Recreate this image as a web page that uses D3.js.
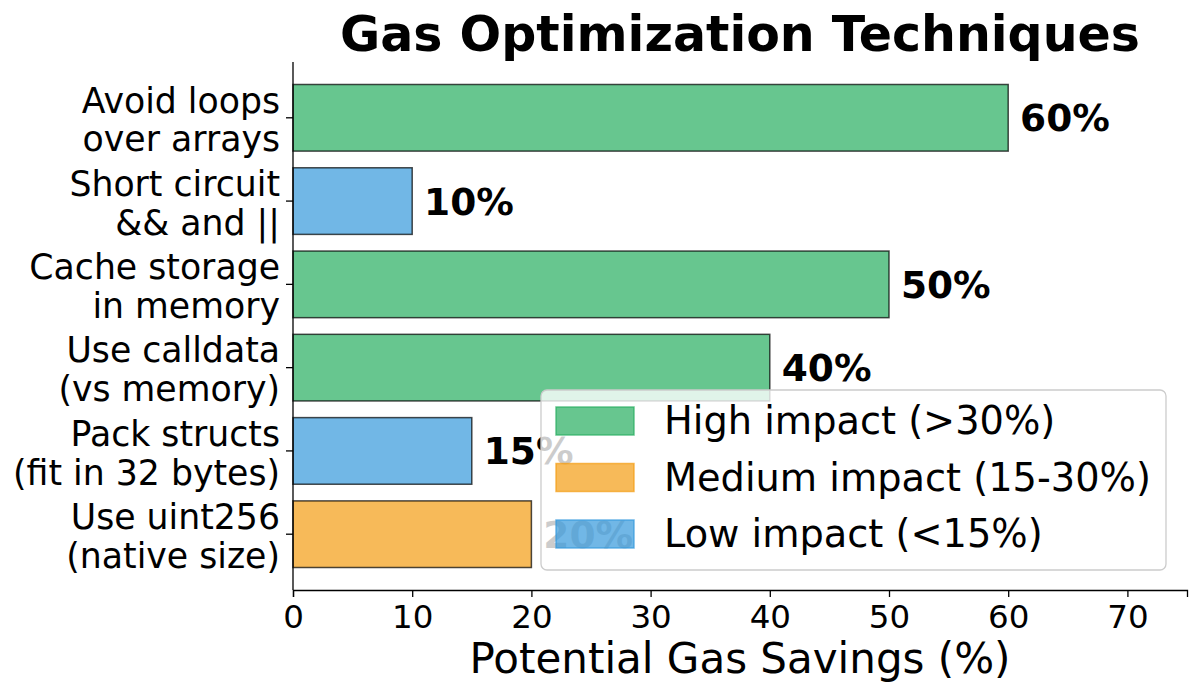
<!DOCTYPE html>
<html>
<head>
<meta charset="utf-8">
<script src="https://cdn.jsdelivr.net/npm/d3@7"></script>
<style>
  body { margin: 0; background: #fff; }
  svg { font-family: "DejaVu Sans", sans-serif; }
</style>
</head>
<body>
<svg id="chart" width="1200" height="697"></svg>
<script>
// techniques, top to bottom
const techniques = [
  ['Avoid loops', 'over arrays'],
  ['Short circuit', '&& and ||'],
  ['Cache storage', 'in memory'],
  ['Use calldata', '(vs memory)'],
  ['Pack structs', '(fit in 32 bytes)'],
  ['Use uint256', '(native size)'],
];
const savings = [60, 10, 50, 40, 15, 20];
const xTicks = [0, 10, 20, 30, 40, 50, 60, 70];
const impactLabels = ['High impact (>30%)', 'Medium impact (15-30%)', 'Low impact (<15%)'];
const impactColors = ['#27ae60', '#f39c12', '#3498db'];

function impactOf(v) {
  if (v > 30) return 0;
  if (v >= 20) return 1;
  return 2;
}

const svg = d3.select('#chart');
const margin = {top: 62, left: 293, right: 13, bottom: 107};
const width = 1200 - margin.left - margin.right;
const height = 697 - margin.top - margin.bottom;

const x = d3.scaleLinear().domain([0, 75]).range([0, width]);
const y = d3.scaleBand()
  .domain(d3.range(techniques.length))
  .range([0, height])
  .paddingInner(0.2)
  .paddingOuter(0.27);

const g = svg.append('g').attr('transform', `translate(${margin.left},${margin.top})`);

// bars
g.selectAll('rect.bar')
  .data(savings)
  .join('rect')
  .attr('class', 'bar')
  .attr('x', x(0))
  .attr('y', (d, i) => y(i))
  .attr('width', d => x(d) - x(0))
  .attr('height', y.bandwidth())
  .attr('fill', d => impactColors[impactOf(d)])
  .attr('fill-opacity', 0.7)
  .attr('stroke', '#000')
  .attr('stroke-opacity', 0.7)
  .attr('stroke-width', 1.5);

// value labels
g.selectAll('text.val')
  .data(savings)
  .join('text')
  .attr('class', 'val')
  .attr('x', d => x(d + 1))
  .attr('y', (d, i) => y(i) + y.bandwidth() / 2)
  .attr('dy', '0.36em')
  .attr('font-size', 37.5)
  .attr('font-weight', 'bold')
  .text(d => d + '%');

// axes
const xAxis = d3.axisBottom(x).tickValues(xTicks).tickSize(7).tickPadding(8);
const xg = g.append('g').attr('transform', `translate(0,${height})`).call(xAxis);
xg.selectAll('text').attr('font-size', 32.5).attr('fill', '#000').attr('font-family', 'DejaVu Sans');
xg.select('.domain').attr('stroke-width', 1.3);
xg.selectAll('.tick line').attr('stroke-width', 1.3);

const yAxis = d3.axisLeft(y).tickSize(7).tickFormat('');
const yg = g.append('g').call(yAxis);
yg.select('.domain').attr('d', `M0,0V${height}`).attr('stroke-width', 1.3);
yg.selectAll('.tick line').attr('stroke-width', 1.3);

g.selectAll('text.ylab')
  .data(techniques)
  .join('text')
  .attr('class', 'ylab')
  .attr('text-anchor', 'end')
  .attr('font-size', 34.7)
  .attr('x', -13)
  .attr('y', (d, i) => y(i) + y.bandwidth() / 2)
  .selectAll('tspan')
  .data(d => d)
  .join('tspan')
  .attr('x', -13)
  .attr('dy', (d, j) => j === 0 ? '-0.15em' : '1.12em')
  .text(d => d);

// axis title
svg.append('text')
  .attr('x', margin.left + width / 2)
  .attr('y', 673)
  .attr('text-anchor', 'middle')
  .attr('font-size', 42)
  .text('Potential Gas Savings (%)');

// chart title
svg.append('text')
  .attr('x', margin.left + width / 2)
  .attr('y', 51)
  .attr('text-anchor', 'middle')
  .attr('font-size', 49)
  .attr('font-weight', 'bold')
  .text('Gas Optimization Techniques');

// legend
const legend = svg.append('g').attr('transform', 'translate(541,390)');
legend.append('rect')
  .attr('width', 625)
  .attr('height', 180)
  .attr('rx', 6)
  .attr('fill', '#fff')
  .attr('fill-opacity', 0.8)
  .attr('stroke', '#ccc')
  .attr('stroke-width', 1.3);

const items = legend.selectAll('g.item')
  .data(impactLabels)
  .join('g')
  .attr('class', 'item')
  .attr('transform', (d, i) => `translate(15,${31 + i * 56.5})`);

items.append('rect')
  .attr('y', -14)
  .attr('width', 78)
  .attr('height', 28)
  .attr('fill', (d, i) => impactColors[i])
  .attr('fill-opacity', 0.7)
  .attr('stroke', (d, i) => impactColors[i])
  .attr('stroke-opacity', 0.7)
  .attr('stroke-width', 1.5);

items.append('text')
  .attr('x', 108)
  .attr('dy', '0.35em')
  .attr('font-size', 38.3)
  .text(d => d);
</script>
</body>
</html>
